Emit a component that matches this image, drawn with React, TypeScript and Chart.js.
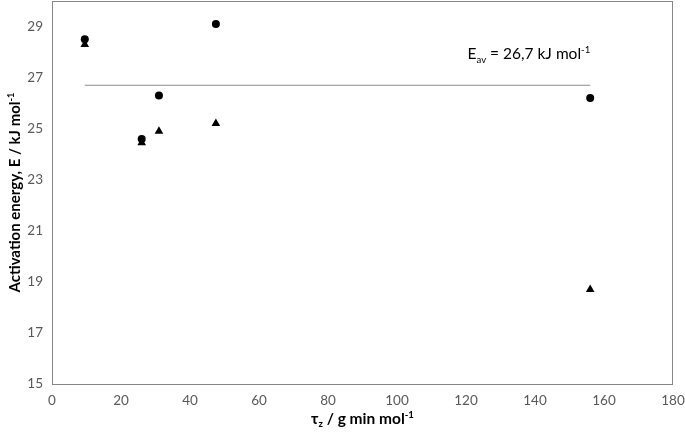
import { useEffect, useRef } from 'react';
import { Chart, registerables } from 'chart.js';

Chart.register(...registerables);

const tau = [9.5, 26, 31, 47.5, 156];
const eCircle = [28.5, 24.6, 26.3, 29.1, 26.2];
const eTriangle = [28.3, 24.45, 24.9, 25.2, 18.7];
const eAverage = 26.7;
const yTicks = [15, 17, 19, 21, 23, 25, 27, 29];
const xTicks = [0, 20, 40, 60, 80, 100, 120, 140, 160, 180];

const FONT = 'Lato, "Liberation Sans", sans-serif';

type Seg = { t: string; k?: 'sub' | 'sup' };

function richWidth(ctx: CanvasRenderingContext2D, segs: Seg[], size: number, weight: string) {
  let w = 0;
  for (const s of segs) {
    const sz = s.k ? size * 0.62 : size;
    ctx.font = `${weight} ${sz}px ${FONT}`;
    w += ctx.measureText(s.t).width;
  }
  return w;
}

function drawRich(ctx: CanvasRenderingContext2D, segs: Seg[], x: number, y: number, size: number, weight: string, color: string) {
  ctx.fillStyle = color;
  ctx.textBaseline = 'alphabetic';
  ctx.textAlign = 'left';
  let cx = x;
  for (const s of segs) {
    const sz = s.k ? size * 0.62 : size;
    ctx.font = `${weight} ${sz}px ${FONT}`;
    const dy = s.k === 'sub' ? size * 0.22 : s.k === 'sup' ? -size * 0.38 : 0;
    ctx.fillText(s.t, cx, y + dy);
    cx += ctx.measureText(s.t).width;
  }
}

const avgLabel: Seg[] = [{ t: 'E' }, { t: 'av', k: 'sub' }, { t: ' = 26,7 kJ mol' }, { t: '-1', k: 'sup' }];
const xTitle: Seg[] = [{ t: 'τ' }, { t: 'z', k: 'sub' }, { t: ' / g min mol' }, { t: '-1', k: 'sup' }];
const yTitle: Seg[] = [{ t: 'Activation energy, E / kJ mol' }, { t: '-1', k: 'sup' }];

const decorPlugin = {
  id: 'decor',
  afterDraw(chart: any) {
    const ctx: CanvasRenderingContext2D = chart.ctx;
    const a = chart.chartArea;
    const xs = chart.scales.x;
    const ys = chart.scales.y;
    ctx.save();
    ctx.strokeStyle = '#868686';
    ctx.lineWidth = 1;
    ctx.strokeRect(Math.round(a.left) + 0.5, Math.round(a.top) + 0.5, Math.round(a.right - a.left) - 1, Math.round(a.bottom - a.top));
    // average label
    const lx = xs.getPixelForValue(tau[tau.length - 1]) - richWidth(ctx, avgLabel, 15.5, 'normal');
    drawRich(ctx, avgLabel, lx, ys.getPixelForValue(eAverage) - 26, 15.5, 'normal', '#000');
    // x title
    const xw = richWidth(ctx, xTitle, 15.5, 'bold');
    drawRich(ctx, xTitle, (a.left + a.right) / 2 - xw / 2, 424, 15.5, 'bold', '#000');
    // y title
    const yw = richWidth(ctx, yTitle, 15, 'bold');
    ctx.translate(20, (a.top + a.bottom) / 2);
    ctx.rotate(-Math.PI / 2);
    drawRich(ctx, yTitle, -yw / 2, 0, 15, 'bold', '#000');
    ctx.restore();
  },
};

const zeroPad = (s: any) => {
  s.paddingTop = 0;
  s.paddingBottom = 0;
  s.paddingLeft = 0;
  s.paddingRight = 0;
};

export default function App() {
  const ref = useRef<HTMLCanvasElement>(null);
  useEffect(() => {
    document.body.style.margin = '0';
    const chart = new Chart(ref.current!, {
      type: 'scatter',
      data: {
        datasets: [
          {
            label: 'circle',
            data: tau.map((x, i) => ({ x, y: eCircle[i] })),
            pointStyle: 'circle',
            pointRadius: 4,
            backgroundColor: '#000',
            borderColor: '#000',
            borderWidth: 0,
          },
          {
            label: 'triangle',
            data: tau.map((x, i) => ({ x, y: eTriangle[i] })),
            pointStyle: 'triangle',
            pointRadius: 5,
            backgroundColor: '#000',
            borderColor: '#000',
            borderWidth: 0,
          },
          {
            type: 'line',
            label: 'average',
            data: [
              { x: tau[0], y: eAverage },
              { x: tau[tau.length - 1], y: eAverage },
            ],
            borderColor: '#8c8c8c',
            borderWidth: 1,
            pointRadius: 0,
            showLine: true,
          } as any,
        ],
      },
      options: {
        responsive: false,
        animation: false,
        layout: { autoPadding: false, padding: { top: 1, right: 12, left: 0, bottom: 0 } },
        plugins: { legend: { display: false }, tooltip: { enabled: false } },
        scales: {
          x: {
            type: 'linear',
            min: 0,
            max: 180,
            afterBuildTicks: (s: any) => {
              s.ticks = xTicks.map((v) => ({ value: v }));
            },
            afterFit: (s: any) => {
              s.height = 49;
              zeroPad(s);
            },
            grid: { display: false, drawTicks: false },
            border: { display: false },
            ticks: { padding: 9, color: '#595959', font: { family: FONT, size: 13.5 }, maxRotation: 0 },
          },
          y: {
            type: 'linear',
            min: 15,
            max: 30,
            afterBuildTicks: (s: any) => {
              s.ticks = yTicks.map((v) => ({ value: v }));
            },
            afterFit: (s: any) => {
              s.width = 52;
              zeroPad(s);
            },
            grid: { display: false, drawTicks: false },
            border: { display: false },
            ticks: { padding: 9, color: '#595959', font: { family: FONT, size: 13.5 } },
          },
        },
      },
      plugins: [decorPlugin],
    });
    return () => chart.destroy();
  }, []);
  return <canvas ref={ref} width={685} height={433} style={{ display: 'block' }} />;
}
